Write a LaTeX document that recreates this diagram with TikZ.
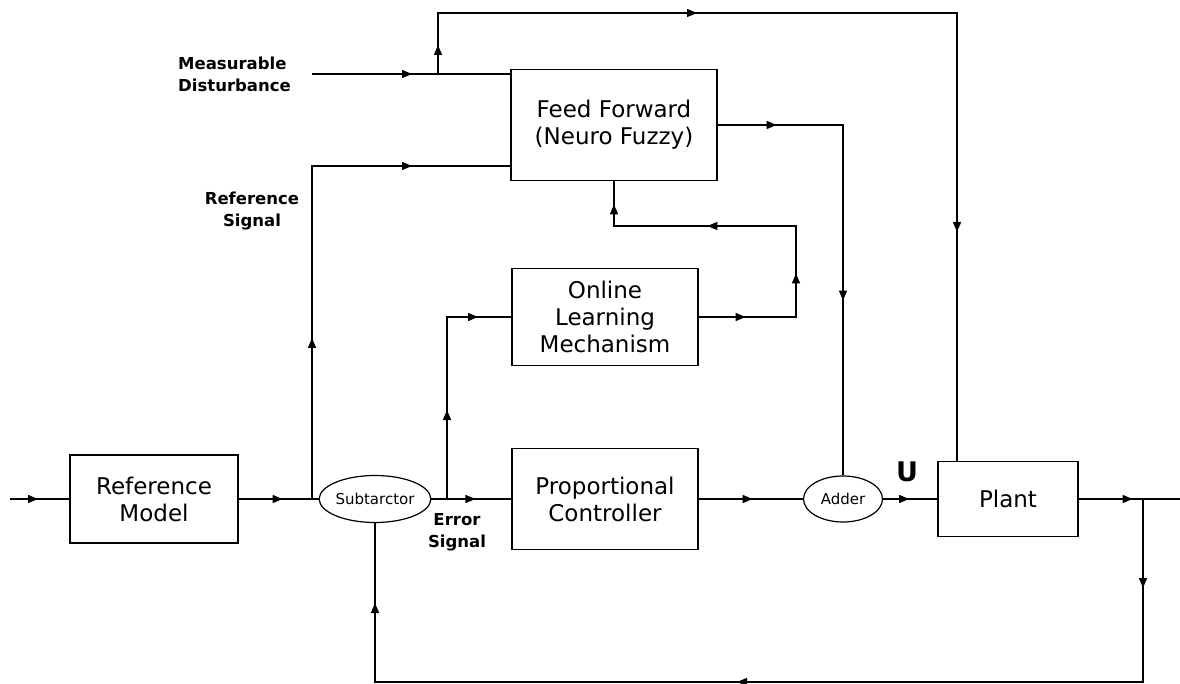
\documentclass[tikz,border=0pt]{standalone}
\usepackage{fontspec}
\setmainfont{DejaVu Sans}
\usetikzlibrary{shapes.geometric, arrows.meta, decorations.markings}

\begin{document}
\begin{tikzpicture}[
    x=1pt, y=-1pt,
    block/.style={rectangle, draw, line width=1.2pt, align=center, inner sep=0pt, font=\fontsize{23}{27}\selectfont},
    junc/.style={ellipse, draw, line width=1.2pt, inner sep=0pt, font=\fontsize{15}{18}\selectfont},
    lbl/.style={align=center, inner sep=0pt, font=\bfseries\fontsize{16.5}{22}\selectfont},
    wire/.style={line width=1.4pt},
    tip at/.style={postaction={decorate, decoration={markings, mark=at position #1 with {\arrow{Triangle[length=10pt, width=8pt]}}}}}
]
\useasboundingbox (0,0) rectangle (1180,684);

% blocks
\node[block, minimum width=168pt, minimum height=88pt] (refmodel) at (154,499) {Reference\\Model};
\node[junc, minimum width=97pt, minimum height=47pt] (sub) at (375,499) {Subtarctor};
\node[block, minimum width=186pt, minimum height=101pt] (prop) at (605,499) {Proportional\\Controller};
\node[block, minimum width=186pt, minimum height=97pt] (online) at (605,317) {Online\\Learning\\Mechanism};
\node[block, minimum width=206pt, minimum height=111pt] (ff) at (614,125) {Feed Forward\\(Neuro Fuzzy)};
\node[junc, minimum width=79pt, minimum height=46pt] (adder) at (843,499) {Adder};
\node[block, minimum width=140pt, minimum height=75pt] (plant) at (1008,499) {Plant};

% labels
\node[lbl, anchor=west, align=left] (distlbl) at (178,74) {Measurable\\Disturbance};
\node[lbl] (reflbl) at (252,211) {Reference\\Signal};
\node[lbl] (errlbl) at (457,532) {Error\\Signal};
\node[font=\bfseries\fontsize{27}{30}\selectfont, inner sep=0pt] (ulbl) at (907,472) {U};

% free ends and junctions
\coordinate (in) at (10,499);
\coordinate (out) at (1180,499);
\coordinate (dist) at (312,74);
\coordinate (jdist) at (438,74);
\coordinate (top) at (957,13);
\coordinate (jref) at (312,499);
\coordinate (refsig) at (312,166);
\coordinate (jerr) at (447,499);
\coordinate (lrn) at (796,226);
\coordinate (jout) at (1143,499);
\coordinate (fbk) at (1143,682);

% main loop
\draw[wire, tip at=28pt] (in) -- (refmodel.west);
\draw[wire, tip at=44pt] (refmodel.east) -- (sub.west);
\draw[wire, tip at=44pt] (sub.east) -- (prop.west);
\draw[wire, tip at=54pt] (prop.east) -- (adder.west);
\draw[wire, tip at=26pt] (adder.east) -- (plant.west);
\draw[wire, tip at=54pt] (plant.east) -- (out);

% feed forward branch
\draw[wire, tip at=100pt] (dist) -- (dist -| ff.west);
\draw[wire, tip at=29pt, tip at=320pt, tip at=799pt] (jdist) |- (top) -- (top |- plant.north);
\draw[wire, tip at=161pt, tip at=433pt] (jref) -- (refsig) -- (refsig -| ff.west);
\draw[wire, tip at=59pt, tip at=301pt] (ff.east) -| (adder.north);

% learning branch
\draw[wire, tip at=89pt, tip at=213pt] (jerr) |- (online.west);
\draw[wire, tip at=47pt, tip at=141pt, tip at=277pt, tip at=392pt] (online.east) -| (lrn) -| (ff.south);

% feedback
\draw[wire, tip at=89pt, tip at=589pt, tip at=1030pt] (jout) -- (fbk) -| (sub.south);

\end{tikzpicture}
\end{document}
